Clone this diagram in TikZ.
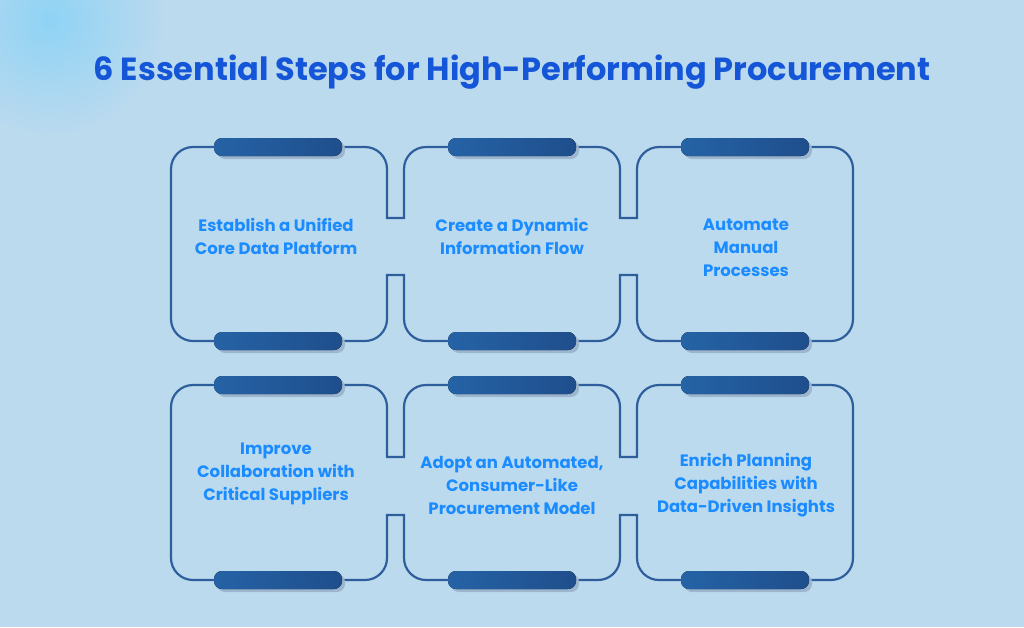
\documentclass[tikz,border=0pt]{standalone}
\usepackage{fontspec}
\setmainfont{Poppins}
\definecolor{bgblue}{HTML}{BCDAEE}
\definecolor{lineblue}{HTML}{2E5F9C}
\definecolor{barblue}{HTML}{2563A6}
\definecolor{bardark}{HTML}{1F4E8C}
\definecolor{textblue}{HTML}{1A8CFF}
\definecolor{titleblue}{HTML}{1556D8}
\definecolor{shadowblue}{HTML}{9DB6CF}
\definecolor{glowblue}{HTML}{8FD3F5}
\tikzset{
  outline/.style={draw=lineblue,line width=2.2pt},
  barshadow/.style={fill=shadowblue,rounded corners=8pt},
  bar/.style={left color=barblue,right color=bardark,rounded corners=8pt},
  steptext/.style={text=textblue,font=\bfseries\fontsize{16.5}{23}\selectfont,align=center}
}
% one row of three joined boxes: top, bottom, neck top, neck bottom
\newcommand{\boxrow}[4]{%
  \draw[outline] (193,#1) -- (365,#1) arc[start angle=-90,end angle=0,radius=22]
    -- (387,#3) -- (404,#3) -- (404,#1+22) arc[start angle=-180,end angle=-90,radius=22]
    -- (598,#1) arc[start angle=-90,end angle=0,radius=22]
    -- (620,#3) -- (637,#3) -- (637,#1+22) arc[start angle=-180,end angle=-90,radius=22]
    -- (831,#1) arc[start angle=-90,end angle=0,radius=22]
    -- (853,#2-22) arc[start angle=0,end angle=90,radius=22]
    -- (659,#2) arc[start angle=90,end angle=180,radius=22]
    -- (637,#4) -- (620,#4) -- (620,#2-22) arc[start angle=0,end angle=90,radius=22]
    -- (426,#2) arc[start angle=90,end angle=180,radius=22]
    -- (404,#4) -- (387,#4) -- (387,#2-22) arc[start angle=0,end angle=90,radius=22]
    -- (193,#2) arc[start angle=90,end angle=180,radius=22]
    -- (171,#1+22) arc[start angle=180,end angle=270,radius=22] -- cycle;}
\begin{document}
\begin{tikzpicture}[x=1pt,y=-1pt]
  \fill[bgblue] (0,0) rectangle (1024,627);
  \useasboundingbox (0,0) rectangle (1024,627);
  \begin{scope}
    \clip (0,0) rectangle (1024,627);
    \shade[inner color=glowblue,outer color=bgblue] (50,20) circle[radius=120];
  \end{scope}

  %title
  \node[text=titleblue,font=\bfseries\fontsize{32}{38}\selectfont] (title) at (512,72) {6 Essential Steps for High-Performing Procurement};

  %outlines
  \boxrow{147}{341}{218}{275}
  \boxrow{385}{580}{457}{515}

  %bars
  \foreach \cx in {278,512,745}{
    \foreach \cy in {147,341,385,580}{
      \fill[barshadow] (\cx-61,\cy-6) rectangle (\cx+67,\cy+12);
      \fill[bar] (\cx-64,\cy-9) rectangle (\cx+64,\cy+9);
    }
  }

  %texts
  \node[steptext] (s1) at (276,236) {Establish a Unified\\Core Data Platform};
  \node[steptext] (s2) at (512,236) {Create a Dynamic\\Information Flow};
  \node[steptext] (s3) at (746,248) {Automate\\Manual\\Processes};
  \node[steptext] (s4) at (276,474) {Improve\\Collaboration with\\Critical Suppliers};
  \node[steptext] (s5) at (512,485) {Adopt an Automated,\\Consumer-Like\\Procurement Model};
  \node[steptext] (s6) at (746,485) {Enrich Planning\\Capabilities with\\Data-Driven Insights};
\end{tikzpicture}
\end{document}
